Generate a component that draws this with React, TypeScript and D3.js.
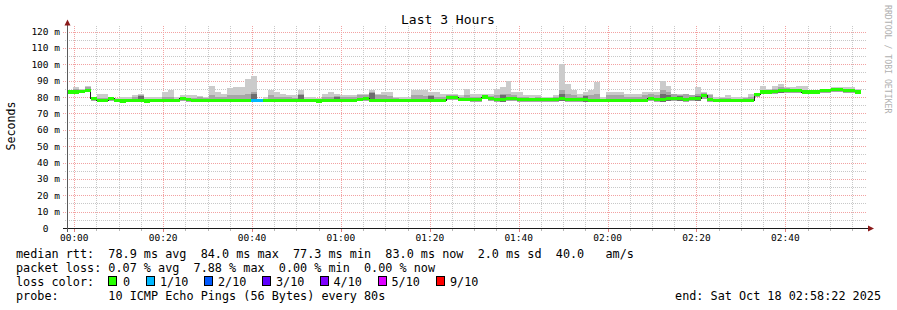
import React from 'react';
import * as d3 from 'd3';

// ---- data ----
const STEP_MIN = 80 / 60; // 80 s per step
const START_MIN = -98 / 60; // 23:58:22 relative to 00:00
const SPAN_MIN = 180;

const median = [
  83, 83, 83.5, 84, 79, 78, 78, 79, 78, 77.5,
  78, 78, 78, 77.5, 78, 78, 78, 78, 78, 79,
  78.5, 78, 78, 78, 78, 78, 78, 78, 78, 78,
  78, 78, 78, 78, 78, 78, 78, 78, 78, 78,
  78, 78, 77.6, 78, 78, 78, 78, 78, 78, 78.5,
  79, 78, 78, 78, 78, 78, 78, 78, 78, 78,
  78, 78, 78, 78, 79.5, 79.5, 78.5, 78.5, 78.5, 78.5,
  80, 79, 78.5, 78.5, 79, 79, 78.5, 78.5, 78.5, 78.5,
  78.5, 78.5, 78.5, 79, 78.5, 78.5, 78.5, 78.5, 78, 78,
  78, 78, 78, 78, 78, 78, 78, 78, 79, 78.5,
  78.5, 79, 79, 79, 78.5, 79, 79, 81, 78.5, 78,
  78, 78, 78, 78, 78, 78, 81.5, 83, 83, 83.5,
  84, 84, 84, 84, 83, 83, 83, 84, 84, 84.5,
  84.5, 84, 84, 83, NaN,
];

const lossTenths = median.map((_, i) => (i === 31 || i === 32 ? 1 : 0));

const smokeMax = [
  84.5, 86, 85, 87, 80, 82, 82, 80, 79.5, 80,
  80, 81, 82, 80, 80, 80, 83, 84, 80, 81,
  81, 81, 80.5, 80, 87, 83, 81.6, 85.7, 86, 86,
  91, 93, 79, 80, 84, 83, 82, 81, 81, 84,
  80, 80, 79.5, 82, 83, 82, 81, 81, 81, 82,
  82, 84, 82, 83, 83, 80, 80, 80, 84, 84,
  84, 83, 83, 82, 82, 82, 81, 85, 82, 82,
  82, 82, 85, 86, 90, 83, 83, 81, 81, 81,
  80, 80, 81, 100, 88, 84, 82, 83, 84, 89,
  80, 83, 83, 83, 82, 82, 82, 83, 83, 83,
  90, 87, 82, 82, 81, 81, 86, 83, 82, 80,
  80, 81, 80, 80, 80, 82, 82, 87, 85, 87,
  88, 86, 86, 87, 87, 84, 84, 85, 85, 86,
  86, 86, 86, 85, NaN,
];

const smokeUpper = [
  84, 85, 84.5, 86, 80, 79.5, 79.5, 80, 79, 79,
  79, 80, 81, 79, 79, 79, 80, 80, 79, 80,
  79.5, 79.5, 80, 79.5, 81, 80, 80, 81, 81, 81.5,
  82, 83, 78, 79, 81, 80, 80, 80, 79.5, 82,
  79, 79, 79, 80, 80, 80.5, 80, 80, 80, 81,
  81, 83, 81, 81, 80.5, 79.5, 79, 79, 81, 81,
  80.5, 81, 80, 80, 81, 81, 80, 81, 80, 80,
  81.5, 80.5, 81, 82, 82, 81, 80, 80, 79.5, 80,
  79, 79, 80, 84, 82, 81, 80, 81, 81, 82,
  79, 81, 81, 81, 80, 80, 80, 81, 82, 81,
  84, 83, 82, 81, 82, 81, 82, 82.5, 81, 79,
  79.5, 79.5, 79, 79, 79.5, 80, 82, 84, 84, 85,
  86, 85.5, 85, 85, 84, 84, 84, 85, 85, 85.5,
  85.5, 85, 85, 84.5, NaN,
];

const smokeMin = [
  82, 82, 82.5, 83, 77.5, 77, 77, 77.5, 77, 76.5,
  77, 77, 77, 76.5, 77, 77, 77, 77, 77, 77.5,
  77, 77, 77, 77, 77, 77, 77, 77, 77, 77,
  77, 77, 77, 77, 77, 77, 77, 77, 77, 77,
  77, 77, 76.5, 77, 77, 77, 77, 77, 77, 77.5,
  77.5, 77, 77, 77, 77, 77, 77, 77, 77, 77,
  77, 77, 77, 77, 78, 78, 77.5, 77.5, 77, 77,
  78.5, 77.5, 77, 77, 77.5, 77.5, 77, 77, 77, 77,
  77, 77, 77, 77.5, 77, 77, 77, 77, 77, 77,
  77, 77, 77, 77, 77, 77, 77, 77, 77.5, 77,
  77, 77.5, 77.5, 77.5, 77, 77.5, 77.5, 79, 77, 77,
  77, 77, 77, 77, 77, 77, 80, 82, 82, 82,
  82.5, 82.5, 82.5, 82.5, 82, 82, 82, 82.5, 82.5, 83,
  83, 82.5, 82.5, 82, NaN,
];

const darkIdx = [3, 12, 31, 39, 45, 51, 61, 73, 83, 87, 100, 101, 103, 106, 120, 124];
const darkTop = [85, 80.5, 82, 81.5, 80, 82.5, 80.5, 81, 82, 80.5, 82, 81.5, 80.5, 80.5, 85, 84];

const yTicks = [0, 10, 20, 30, 40, 50, 60, 70, 80, 90, 100, 110, 120];
const yTickLabels = ['0', '10 m', '20 m', '30 m', '40 m', '50 m', '60 m', '70 m', '80 m', '90 m', '100 m', '110 m', '120 m'];
const xTickMinutes = [0, 20, 40, 60, 80, 100, 120, 140, 160];
const xTickLabels = ['00:00', '00:20', '00:40', '01:00', '01:20', '01:40', '02:00', '02:20', '02:40'];

const lossColors = ['#26ff00', '#00b8ff', '#0059ff', '#5e00ff', '#7e00ff', '#dd00ff', '#ff0000'];
const lossLabels = ['0', '1/10', '2/10', '3/10', '4/10', '5/10', '9/10'];
const lossBoxX = [108.5, 146.5, 204, 262, 320, 378, 436];
const lossTextX = [123, 160, 218, 276, 333.5, 391.5, 450];

const legendLines = [
  'median rtt:  78.9 ms avg  84.0 ms max  77.3 ms min  83.0 ms now  2.0 ms sd  40.0   am/s',
  'packet loss: 0.07 % avg  7.88 % max  0.00 % min  0.00 % now',
  'loss color:',
  'probe:       10 ICMP Echo Pings (56 Bytes) every 80s',
];
const endText = 'end: Sat Oct 18 02:58:22 2025';

// ---- layout ----
const W = 897;
const H = 310;
const X0 = 67;
const X1 = 867;
const Y0 = 228;
const YTOP = 31.5;
const MONO = "'DejaVu Sans Mono', monospace";

export default function App() {
  const x = d3.scaleLinear().domain([START_MIN, START_MIN + SPAN_MIN]).range([X0, X1]);
  const y = d3.scaleLinear().domain([0, 120]).range([Y0, YTOP]);
  const t = (i: number) => START_MIN + i * STEP_MIN;

  const minorY = d3.range(5, 125, 10);
  const minorX = d3.range(0, 180, 5).filter((m) => m % 20 !== 0);

  const lossIdx = (l: number) => (l >= 6 ? 6 : l);

  const medLine = d3
    .line<number>()
    .defined((d) => !isNaN(d))
    .x((_, i) => x(t(i)))
    .y((d) => y(d))
    .curve(d3.curveStepAfter);
  const medPts = median.slice();
  // extend last defined step to its end
  const lastDef = medPts.reduce((a, d, i) => (!isNaN(d) ? i : a), 0);
  const medPath = medLine(medPts.slice(0, lastDef + 1).concat([medPts[lastDef]])) || '';

  return (
    <svg
      width={W}
      height={H}
      style={{ position: 'absolute', left: 0, top: 0, background: '#fff' }}
      fontFamily={MONO}
    >
      <rect x={0} y={0} width={W} height={H} fill="#fff" />

      {/* grid */}
      <g shapeRendering="crispEdges">
        {minorY.map((v) => (
          <line key={'my' + v} x1={X0 - 2} x2={X1} y1={Math.round(y(v)) + 0.5} y2={Math.round(y(v)) + 0.5}
            stroke="#c8c8c8" strokeDasharray="1,1" />
        ))}
        {minorX.map((m) => (
          <line key={'mx' + m} x1={Math.round(x(m)) + 0.5} x2={Math.round(x(m)) + 0.5} y1={YTOP - 6} y2={Y0 + 3}
            stroke="#c8c8c8" strokeDasharray="1,1" />
        ))}
        {yTicks.slice(1).map((v) => (
          <line key={'Y' + v} x1={X0 - 4} x2={X1} y1={Math.round(y(v)) + 0.5} y2={Math.round(y(v)) + 0.5}
            stroke="#f2a2a2" strokeDasharray="1,1" />
        ))}
        {xTickMinutes.map((m) => (
          <line key={'X' + m} x1={Math.round(x(m)) + 0.5} x2={Math.round(x(m)) + 0.5} y1={YTOP - 6} y2={Y0 + 4}
            stroke="#f2a2a2" strokeDasharray="1,1" />
        ))}
      </g>

      {/* smoke */}
      <g shapeRendering="crispEdges">
        {smokeMax.map((v, i) =>
          isNaN(v) ? null : (
            <rect key={'s1' + i} x={x(t(i))} width={x(t(i + 1)) - x(t(i))}
              y={y(v)} height={y(smokeMin[i]) - y(v)} fill="#cbcbcb" />
          )
        )}
        {smokeUpper.map((v, i) =>
          isNaN(v) ? null : (
            <rect key={'s2' + i} x={x(t(i))} width={x(t(i + 1)) - x(t(i))}
              y={y(v)} height={y(smokeMin[i]) - y(v)} fill="#a6a6a6" />
          )
        )}
        {darkIdx.map((idx, k) => (
          <rect key={'s3' + k} x={x(t(idx))} width={x(t(idx + 1)) - x(t(idx))}
            y={y(darkTop[k])} height={y(smokeMin[idx]) - y(darkTop[k])} fill="#6e6e6e" />
        ))}
      </g>

      {/* median black line */}
      <path d={medPath} fill="none" stroke="#202020" strokeWidth={1} shapeRendering="crispEdges" />

      {/* loss-coloured median band */}
      <g shapeRendering="crispEdges">
        {median.map((v, i) =>
          isNaN(v) ? null : (
            <rect key={'m' + i} x={x(t(i))} width={x(t(i + 1)) - x(t(i))}
              y={y(v + 1)} height={y(v - 1) - y(v + 1)} fill={lossColors[lossIdx(lossTenths[i])]} />
          )
        )}
      </g>

      {/* axes */}
      <g shapeRendering="crispEdges">
        <line x1={X0 - 4} x2={X1 + 1} y1={Y0 + 0.5} y2={Y0 + 0.5} stroke="#1a1a1a" />
        <line x1={X0 + 0.5} x2={X0 + 0.5} y1={Y0 + 4} y2={YTOP - 8} stroke="#5a5a5a" />
        {xTickMinutes.map((m) => (
          <line key={'tx' + m} x1={Math.round(x(m)) + 0.5} x2={Math.round(x(m)) + 0.5} y1={Y0 + 1} y2={Y0 + 4}
            stroke="#e08080" />
        ))}
        {minorX.map((m) => (
          <line key={'tmx' + m} x1={Math.round(x(m)) + 0.5} x2={Math.round(x(m)) + 0.5} y1={Y0 + 1} y2={Y0 + 3}
            stroke="#b8b8b8" />
        ))}
      </g>
      <polygon points={`${X0 - 2.5},${YTOP - 6} ${X0 + 3.5},${YTOP - 6} ${X0 + 0.5},${YTOP - 12}`} fill="#8b1a1a" />
      <polygon points={`${X1 + 1},${Y0 - 2.5} ${X1 + 1},${Y0 + 3.5} ${X1 + 7},${Y0 + 0.5}`} fill="#8b1a1a" />

      {/* y tick labels */}
      {yTicks.map((v, i) => (
        <text key={'yl' + v} x={v === 0 ? 60 - 2 * 5.72 : 60} y={y(v) + 3.5} fontSize={9.5} textAnchor="end" fill="#000">
          {yTickLabels[i]}
        </text>
      ))}
      {/* x tick labels */}
      {xTickMinutes.map((m, i) => (
        <text key={'xl' + m} x={x(m)} y={241} fontSize={9.5} textAnchor="middle" fill="#000">
          {xTickLabels[i]}
        </text>
      ))}

      {/* title */}
      <text x={448} y={24} fontSize={13} textAnchor="middle" fill="#000">Last 3 Hours</text>
      {/* y axis title */}
      <text transform="translate(15,126) rotate(-90)" fontSize={11.6} textAnchor="middle" fill="#000">Seconds</text>
      {/* watermark */}
      <text transform="translate(884.5,5) rotate(90)" fontSize={8.2} fill="#b0b0b0">RRDTOOL / TOBI OETIKER</text>

      {/* legend */}
      {legendLines.map((s, i) => (
        <text key={'lg' + i} x={16} y={258 + i * 14} fontSize={11.8} fill="#000" style={{ whiteSpace: 'pre' }}>
          {s}
        </text>
      ))}
      {lossLabels.map((l, i) => (
        <g key={'lc' + i}>
          <rect x={lossBoxX[i]} y={276.5} width={8} height={9} fill={lossColors[i]} stroke="#000" strokeWidth={1}
            shapeRendering="crispEdges" />
          <text x={lossTextX[i]} y={286} fontSize={11.8} fill="#000">{l}</text>
        </g>
      ))}
      <text x={881} y={300} fontSize={11.8} textAnchor="end" fill="#000">{endText}</text>
    </svg>
  );
}
